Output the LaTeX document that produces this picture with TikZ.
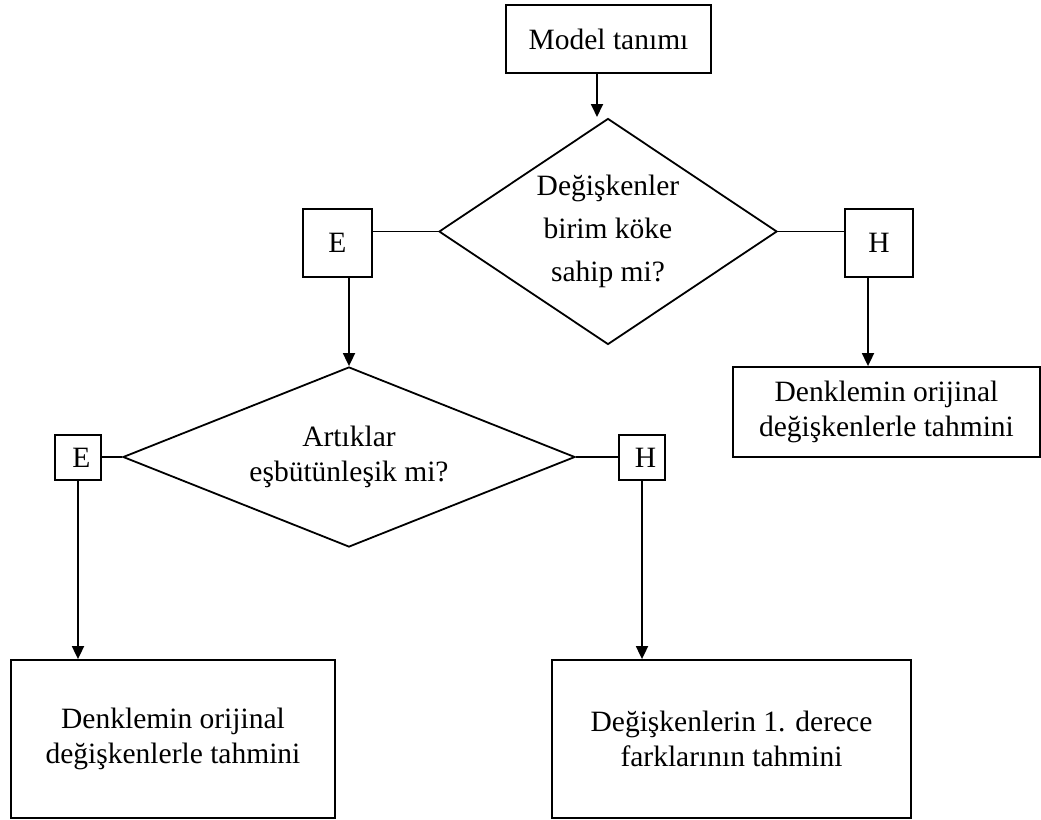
\documentclass[tikz,border=0pt]{standalone}
\usepackage{fontspec}
\setmainfont{Liberation Serif}
\usetikzlibrary{shapes.geometric,arrows.meta}
\tikzset{
  base/.style={draw=black, line width=1.8pt, inner sep=0pt, align=center,
    font=\fontsize{29.5pt}{35pt}\selectfont},
  boxnode/.style={base, rectangle},
  decision/.style={base, diamond},
  arr/.style={line width=1.8pt, -{Triangle[length=13pt,width=12pt]}},
  conn/.style={line width=1.8pt}
}
\begin{document}
\begin{tikzpicture}[x=1pt,y=-1pt]
\useasboundingbox (0,0) rectangle (1041,819);
\node[boxnode, minimum width=205pt, minimum height=68pt] (model) at (608.5,39) {Model tanımı};
\node[decision, minimum width=338pt, minimum height=226pt, shape aspect=1.5,
  font=\fontsize{29.5pt}{43pt}\selectfont] (d1) at (608,231.5)
  {Değişkenler\\birim köke\\sahip mi?};
\node[boxnode, minimum width=69pt, minimum height=68pt] (e1) at (337.5,243) {E};
\node[boxnode, minimum width=68pt, minimum height=68pt] (h1) at (879,243) {H};
\node[decision, minimum width=452pt, minimum height=180pt, shape aspect=2.5] (d2) at (349,457)
  {Artıklar\\eşbütünleşik mi?};
\node[boxnode, minimum width=46pt, minimum height=45pt] (e2) at (78,457.5) {\hspace{7pt}E};
\node[boxnode, minimum width=46pt, minimum height=45pt] (h2) at (642,457.5) {\hspace{7pt}H};
\node[boxnode, minimum width=307pt, minimum height=90pt] (r) at (886.5,412)
  {Denklemin orijinal\\değişkenlerle tahmini};
\node[boxnode, minimum width=324pt, minimum height=158pt] (bl) at (173,739)
  {Denklemin orijinal\\değişkenlerle tahmini};
\node[boxnode, minimum width=359pt, minimum height=158pt] (br) at (731.5,739)
  {Değişkenlerin 1. derece\\farklarının tahmini};
\coordinate (a1) at (597,117);
\coordinate (a3) at (868,0);
\draw[arr] (a1 |- model.south) -- (a1);
\draw[conn] (d1.west) -- (d1.west -| e1.east);
\draw[conn] (d1.east) -- (d1.east -| h1.west);
\draw[arr] (e1.south -| d2.north) -- (d2.north);
\draw[arr] (a3 |- h1.south) -- (a3 |- r.north);
\draw[conn] (d2.west) -- (d2.west -| e2.east);
\draw[conn] (d2.east) -- (d2.east -| h2.west);
\draw[arr] (e2.south) -- (e2.south |- bl.north);
\draw[arr] (h2.south) -- (h2.south |- br.north);
\end{tikzpicture}
\end{document}
